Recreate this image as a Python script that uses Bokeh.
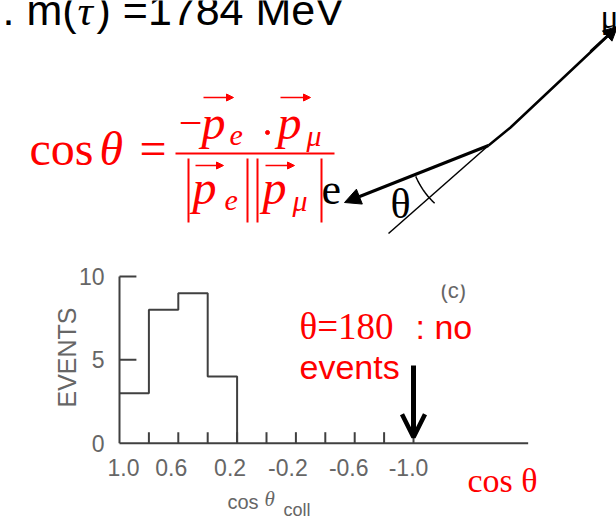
import numpy as np
from bokeh.plotting import figure
from bokeh.models import Range1d, Arrow, NormalHead, OpenHead
from bokeh.core.properties import value
from bokeh.embed import file_html
from bokeh.resources import INLINE

# ---------------- data ----------------
bin_edges = [1.0, 0.8, 0.6, 0.4, 0.2]          # cos(theta_coll) bin edges
counts = [3, 8, 9, 4]                          # events per bin
x_ticks = [0.8, 0.6, 0.4, 0.2, 0.0, -0.2, -0.4, -0.6, -0.8, -1.0]
x_label_vals = [1.0, 0.6, 0.2, -0.2, -0.6, -1.0]
x_label_txt = ["1.0", "0.6", "0.2", "-0.2", "-0.6", "-1.0"]
y_ticks = [5, 10]
y_label_vals = [10, 5, 0]
y_label_txt = ["10", "5", "0"]
axis_end = -1.78                               # end of the scanned x axis
no_event_cos = -1.0                            # theta = 180 deg
y_max = 10

RED = "#ff0000"
SCAN = "#404040"
SCAN_TXT = "#666666"

p = figure(width=616, height=516, x_range=Range1d(0, 616), y_range=Range1d(516, 0),
           x_axis_type=None, y_axis_type=None, toolbar_location=None,
           output_backend="svg", min_border=0, outline_line_color=None,
           background_fill_color="white", border_fill_color="white")
p.extra_x_ranges = {"cos": Range1d(1.0 + 119 / 147.0, 1.0 - 497 / 147.0)}
p.extra_y_ranges = {"ev": Range1d(-73.3 / 16.67, 442.7 / 16.67)}
H = dict(x_range_name="cos", y_range_name="ev")


def txt(x, y, s, size, color="black", font="Liberation Serif", style="normal",
        align="left", baseline="alphabetic", angle=0.0, **kw):
    yy = y - 0.31 * size if baseline == "alphabetic" else y
    p.text(x=[x], y=[yy], text=[s], text_font=value(font), text_font_size=value(f"{size}px"),
           text_font_style=style, text_color=color, text_align=align,
           text_baseline=baseline, angle=angle, **kw)


# ---------------- top line of the slide ----------------
txt(2, 23, ". m(", 43, font="Liberation Sans")
txt(77, 23, "τ", 43, style="italic")
txt(96, 23, ") =1784 MeV", 43, font="Liberation Sans")

# ---------------- formula ----------------
txt(29, 163, "cos", 48, RED)
txt(99, 163, "θ", 48, RED, style="italic")
txt(139, 163, "=", 48, RED)
p.line([175, 334], [153, 153], line_color=RED, line_width=2)
# numerator
txt(190, 136, "−", 42, RED, align="center")
txt(201, 137, "p", 48, RED, style="italic")
txt(229, 144, "e", 30, RED, style="italic")
p.scatter([267], [132], size=4, color=RED)
txt(277, 137, "p", 48, RED, style="italic")
txt(306, 144, "μ", 30, RED, style="italic")
# denominator
for xb in [188, 247, 257, 321]:
    p.line([xb, xb], [158, 222], line_color=RED, line_width=2)
txt(192, 202, "p", 48, RED, style="italic")
txt(224, 209, "e", 30, RED, style="italic")
txt(262, 202, "p", 48, RED, style="italic")
txt(292, 209, "μ", 30, RED, style="italic")
for (x0, x1, yy) in [(203, 233, 97), (280, 310, 97), (195, 223, 165), (265, 294, 165)]:
    p.add_layout(Arrow(x_start=x0, y_start=yy, x_end=x1, y_end=yy, line_color=RED, line_width=1.5,
                       end=NormalHead(size=7, fill_color=RED, line_color=RED)))

# ---------------- decay diagram ----------------
vx, vy = 488, 145
p.line([vx, 510, 612], [vy, 127, 31], line_color="black", line_width=2.5)
p.add_layout(Arrow(x_start=590, y_start=51, x_end=617, y_end=26, line_color="black", line_width=2.5,
                   end=NormalHead(size=14, fill_color="black", line_color="black")))
p.line([vx, 388], [vy, 233], line_color="black", line_width=1.5)
p.add_layout(Arrow(x_start=vx, y_start=vy, x_end=344, y_end=202, line_color="black", line_width=3,
                   end=NormalHead(size=16, fill_color="black", line_color="black")))
ang = np.linspace(np.radians(157), np.radians(133), 20)
p.line(vx + 79 * np.cos(ang), vy + 79 * np.sin(ang), line_color="black", line_width=1.5)
txt(321, 203, "e", 44)
txt(390, 217, "θ", 42)
txt(600, 27, "μ", 34)

# ---------------- scanned histogram ----------------
hx, hy = [], []
for i, c in enumerate(counts):
    hx += [bin_edges[i], bin_edges[i + 1]]
    hy += [c, c]
hx.append(bin_edges[-1])
hy.append(0)
p.line(hx, hy, line_color=SCAN, line_width=2, **H)
p.line([bin_edges[0], bin_edges[0]], [0, y_max], line_color=SCAN, line_width=2, **H)
p.segment(x0=[bin_edges[0]] * len(y_ticks), y0=y_ticks,
          x1=[bin_edges[0] - 0.115] * len(y_ticks), y1=y_ticks, line_color=SCAN, line_width=2, **H)
p.line([bin_edges[0], axis_end], [0, 0], line_color=SCAN, line_width=2, **H)
p.segment(x0=x_ticks, y0=[0] * len(x_ticks), x1=x_ticks, y1=[0.66] * len(x_ticks),
          line_color=SCAN, line_width=2, **H)
p.text(x=[1.102] * len(y_label_vals), y=y_label_vals, text=y_label_txt,
       text_font=value("Liberation Sans"), text_font_size=value("23px"), text_color=SCAN_TXT,
       text_align="right", text_baseline="middle", **H)
p.text(x=x_label_vals, y=[-1.46] * len(x_label_vals), text=x_label_txt, x_offset=[4, -7, -7, -8, -6, -5],
       text_font=value("Liberation Sans"), text_font_size=value("23px"), text_color=SCAN_TXT,
       text_align="center", text_baseline="middle", **H)
txt(66, 357, "EVENTS", 25, SCAN_TXT, font="Liberation Sans", align="center", baseline="middle",
    angle=np.pi / 2)
txt(227, 508, "cos", 20, SCAN_TXT, font="Liberation Sans")
txt(264, 505, "θ", 21, SCAN_TXT, font="Liberation Serif", style="italic")
txt(283, 515, "coll", 18, SCAN_TXT, font="Liberation Sans")
txt(440, 297, "(c)", 22, SCAN_TXT, font="Liberation Sans")
p.quad(left=[430], right=[485], top=[270], bottom=[284], fill_color="white", line_color=None)

# ---------------- annotations ----------------
txt(299, 337, "θ=180", 37, RED)
txt(415, 337, ": no", 34, RED, font="Liberation Sans")
txt(299, 377, "events", 34, RED, font="Liberation Sans")
p.add_layout(Arrow(x_start=no_event_cos, y_start=4.66, x_end=no_event_cos, y_end=0.35,
                   line_color="black", line_width=5,
                   end=OpenHead(size=23, line_color="black", line_width=4.5), **H))
txt(467, 491, "cos θ", 34, RED)

open("out.html", "w").write(file_html(p, INLINE))
